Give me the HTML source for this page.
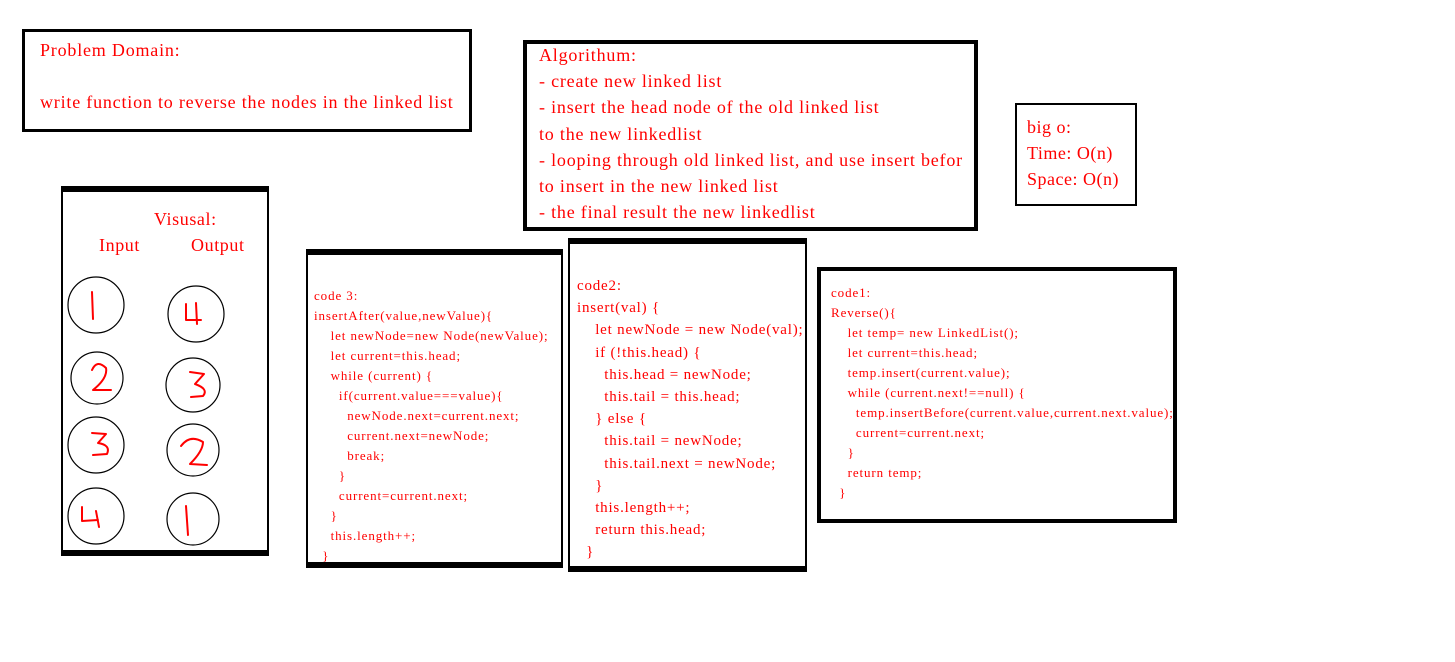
<!DOCTYPE html>
<html><head><meta charset="utf-8"><style>
body{margin:0;width:1455px;height:662px;background:#fff;position:relative;overflow:hidden;font-family:"Liberation Serif",serif;color:#f00}
.b{position:absolute;box-sizing:border-box;border:solid #000;background:#fff}
.t{position:absolute;white-space:pre;}
</style></head><body>
<div class="b" style="left:22px;top:29px;width:450px;height:103px;border-width:3px"></div>
<div class="t" style="left:40px;top:38px;font-size:18px;line-height:24px;letter-spacing:0.8px">Problem Domain:</div>
<div class="t" style="left:40px;top:90px;font-size:18px;line-height:24px;letter-spacing:0.8px">write function to reverse the nodes in the linked list</div>

<div class="b" style="left:523px;top:40px;width:455px;height:191px;border-width:4px"></div>
<div class="t" style="left:539px;top:42px;font-size:18px;line-height:26.2px;letter-spacing:0.8px">Algorithum:
- create new linked list
- insert the head node of the old linked list
to the new linkedlist
- looping through old linked list, and use insert befor
to insert in the new linked list
- the final result the new linkedlist</div>

<div class="b" style="left:1015px;top:103px;width:122px;height:103px;border-width:2px"></div>
<div class="t" style="left:1027px;top:114px;font-size:18px;line-height:26px;letter-spacing:0.5px">big o:
Time: O(n)
Space: O(n)</div>

<div class="b" style="left:61px;top:186px;width:208px;height:370px;border-width:6px 2px 6px 2px"></div>
<div class="t" style="left:154px;top:207px;font-size:18px;line-height:24px;letter-spacing:0.6px">Visusal:</div>
<div class="t" style="left:99px;top:233px;font-size:18px;line-height:24px;letter-spacing:0.6px">Input</div>
<div class="t" style="left:191px;top:233px;font-size:18px;line-height:24px;letter-spacing:0.6px">Output</div>
<svg style="position:absolute;left:0;top:0" width="300" height="600">
<g fill="none" stroke="#000" stroke-width="1.2">
<circle cx="96" cy="305" r="28"/><circle cx="97" cy="378" r="26"/><circle cx="96" cy="445" r="28"/><circle cx="96" cy="516" r="28"/>
<circle cx="196" cy="314" r="28"/><circle cx="193" cy="385" r="27"/><circle cx="193" cy="450" r="26"/><circle cx="193" cy="519" r="26"/>
</g>
<g fill="none" stroke="#f00" stroke-width="2" stroke-linecap="round" stroke-linejoin="round">
<path d="M92 292 L93 319"/>
<path d="M92 370 Q97 359 106 368 Q108 378 93 390 L111 390"/>
<path d="M92 433 L106 434 L98 443 Q111 445 107 454 L93 455"/>
<path d="M82 507 L82 521 L98 520 M96 511 L99 527"/>
<path d="M186 304 L186 320 L201 320 M196 303 L197 324"/>
<path d="M190 372 L204 374 L195 384 Q209 389 203 396 L191 397"/>
<path d="M181 446 Q190 434 203 442 Q203 451 190 464 L207 465"/>
<path d="M186 506 L188 535"/>
</g></svg>

<div class="b" style="left:306px;top:249px;width:257px;height:319px;border-width:6px 2px 6px 2px"></div>
<div class="t" style="left:314px;top:286px;font-size:13px;line-height:20px;letter-spacing:0.9px;width:245px;overflow:hidden">code 3:
insertAfter(value,newValue){
    let newNode=new Node(newValue);
    let current=this.head;
    while (current) {
      if(current.value===value){
        newNode.next=current.next;
        current.next=newNode;
        break;
      }
      current=current.next;
    }
    this.length++;
  }</div>

<div class="b" style="left:568px;top:238px;width:239px;height:334px;border-width:6px 2px 6px 2px"></div>
<div class="t" style="left:577px;top:275px;font-size:15px;line-height:22.2px;letter-spacing:0.8px;width:228px;overflow:hidden">code2:
insert(val) {
    let newNode = new Node(val);
    if (!this.head) {
      this.head = newNode;
      this.tail = this.head;
    } else {
      this.tail = newNode;
      this.tail.next = newNode;
    }
    this.length++;
    return this.head;
  }</div>

<div class="b" style="left:817px;top:267px;width:360px;height:256px;border-width:4px"></div>
<div class="t" style="left:831px;top:283px;font-size:13px;line-height:20px;letter-spacing:0.9px;width:342px;overflow:hidden">code1:
Reverse(){
    let temp= new LinkedList();
    let current=this.head;
    temp.insert(current.value);
    while (current.next!==null) {
      temp.insertBefore(current.value,current.next.value);
      current=current.next;
    }
    return temp;
  }</div>
</body></html>
